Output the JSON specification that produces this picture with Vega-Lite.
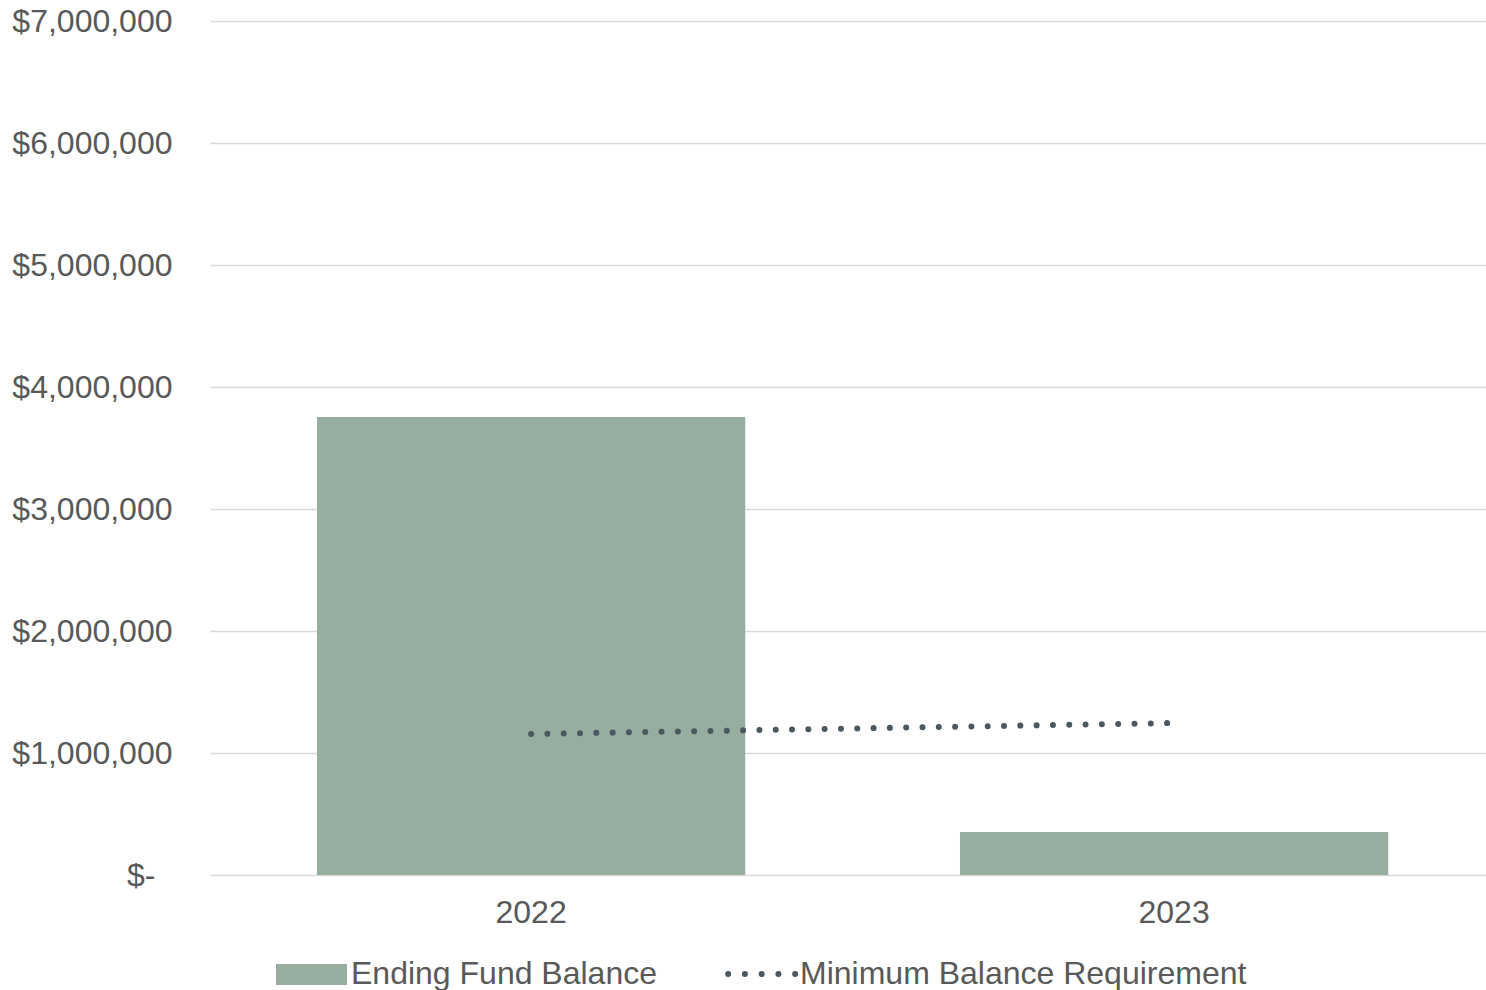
{
  "$schema": "https://vega.github.io/schema/vega-lite/v6.json",
  "width": 1276,
  "height": 854,
  "autosize": {"type": "none"},
  "padding": {"left": 210, "top": 21, "right": 0, "bottom": 115},
  "background": "white",
  "config": {"view": {"stroke": null}, "font": "Liberation Sans"},
  "data": {"values": [
    {"year": "2022", "balance": 3755000, "minimum": 1156000},
    {"year": "2023", "balance": 352000, "minimum": 1246000}
  ]},
  "encoding": {
    "x": {
      "field": "year", "type": "nominal",
      "scale": {"paddingInner": 0.334, "paddingOuter": 0.1592, "align": 0.5225},
      "axis": {"title": null, "labelAngle": 0, "ticks": false, "domain": false, "grid": false,
               "labelFontSize": 32, "labelColor": "#595959", "labelPadding": 22, "labelFont": "Liberation Sans"}
    }
  },
  "layer": [
    {
      "mark": {"type": "bar"},
      "encoding": {
        "y": {
          "field": "balance", "type": "quantitative",
          "scale": {"domain": [0, 7000000], "nice": false},
          "axis": {"title": null, "values": [0, 1000000, 2000000, 3000000, 4000000, 5000000, 6000000, 7000000],
                   "ticks": false, "domain": false, "grid": true, "gridColor": "#d9d9d9", "gridWidth": 1.5,
                   "labelFontSize": 32, "labelColor": "#595959", "labelFont": "Liberation Sans",
                   "labelPadding": {"condition": {"test": "datum.value == 0", "value": 55}, "value": 38},
                   "labelExpr": "datum.value == 0 ? '$-' : '$' + format(datum.value, ',')"}
        },
        "color": {
          "datum": "Ending Fund Balance",
          "scale": {"domain": ["Ending Fund Balance", "Minimum Balance Requirement"], "range": ["#97ad9f", "#4b5860"]},
          "legend": {
            "title": null, "orient": "none", "legendX": 66, "legendY": 943, "direction": "horizontal",
            "clipHeight": 20, "symbolSize": 3844, "symbolStrokeWidth": 6, "labelFontSize": 32, "labelColor": "#595959",
            "labelFont": "Liberation Sans", "labelOffset": 7, "columnPadding": 68, "labelLimit": 1000,
            "encode": {
              "symbols": {"update": {
                "size": {"value": 3844},
                "strokeWidth": {"value": 6},
                "shape": {"signal": "datum.value === 'Ending Fund Balance' ? 'M-1.097,-0.258H1.097V0.258H-1.097Z' : 'M-0.995,0H1.19'"},
                "fill": {"signal": "datum.value === 'Ending Fund Balance' ? '#97ad9f' : 'transparent'"},
                "stroke": {"signal": "datum.value === 'Ending Fund Balance' ? 'transparent' : '#4b5860'"},
                "strokeDash": {"signal": "datum.value === 'Ending Fund Balance' ? [1, 0] : [0.01, 16.74]"},
                "strokeCap": {"value": "round"},
                "opacity": {"value": 1},
                "fillOpacity": {"value": 1},
                "strokeOpacity": {"value": 1}
              }}
            }
          }
        }
      }
    },
    {
      "mark": {"type": "line", "strokeWidth": 6, "strokeDash": [0.01, 16.3], "strokeCap": "round"},
      "encoding": {
        "y": {"field": "minimum", "type": "quantitative"},
        "color": {"datum": "Minimum Balance Requirement"}
      }
    }
  ]
}
